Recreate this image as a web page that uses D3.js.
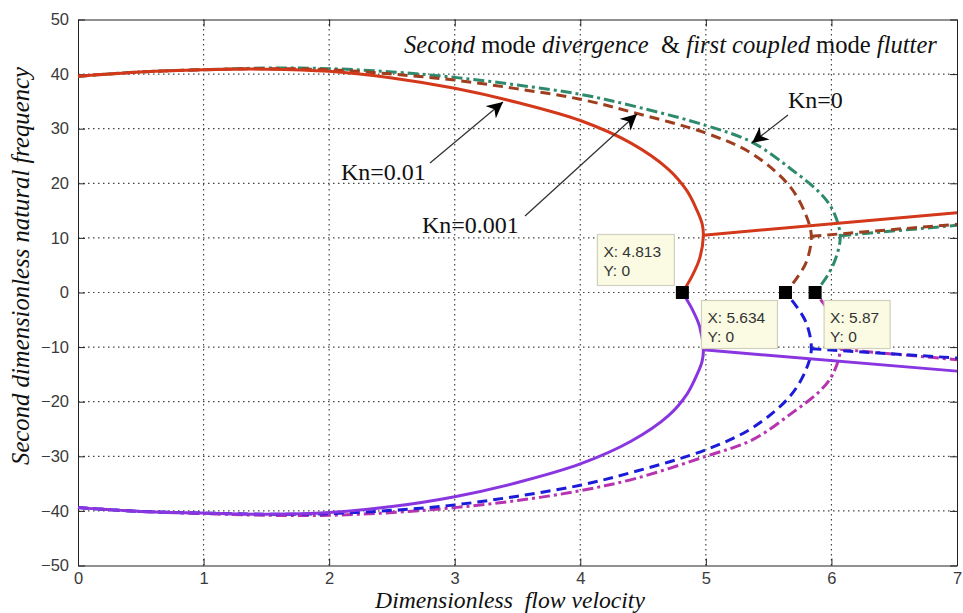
<!DOCTYPE html>
<html>
<head>
<meta charset="utf-8">
<script src="https://cdn.jsdelivr.net/npm/d3@7"></script>
<style>
  html, body { margin: 0; padding: 0; background: #fff; }
  svg { display: block; }
</style>
</head>
<body>
<svg id="chart" width="963" height="613"></svg>
<script>
// axis ticks
var xTicks = [0, 1, 2, 3, 4, 5, 6, 7];
var yTicks = [-50, -40, -30, -20, -10, 0, 10, 20, 30, 40, 50];

// Kn=0.01 (solid), upper / lower branch, then the coupled part after the vertex
var knA_upper = [[0, 39.6], [0.5, 40.4], [1, 40.8], [1.5, 40.9], [2, 40.5], [2.5, 39.3], [3, 37.4], [3.5, 34.8], [4, 31.5], [4.4, 27.4], [4.7, 22.6], [4.85, 18.6], [4.93, 15.0], [4.97, 12.6], [4.98, 10.5], [4.95, 6.2], [4.89, 3.0], [4.813, 0]];
var knA_lower = [[0, -39.4], [0.5, -40.1], [1, -40.4], [1.5, -40.6], [2, -40.3], [2.5, -39.2], [3, -37.4], [3.5, -34.8], [4, -31.4], [4.4, -27.3], [4.7, -22.6], [4.85, -18.6], [4.93, -15.0], [4.97, -12.6], [4.98, -10.5], [4.95, -6.2], [4.89, -3.0], [4.813, 0]];
var knA_upperFlutter = [[4.98, 10.5], [7, 14.6]];
var knA_lowerFlutter = [[4.98, -10.5], [7, -14.4]];

// Kn=0.001 (dashed)
var knB_upper = [[0, 39.6], [0.5, 40.4], [1, 40.8], [1.5, 41.0], [2, 40.8], [2.5, 40.0], [3, 38.9], [3.5, 37.3], [4, 35.4], [4.45, 32.8], [5, 29.2], [5.37, 25.4], [5.67, 19.4], [5.8, 14.0], [5.84, 10.3], [5.8, 5.6], [5.72, 2.5], [5.634, 0]];
var knB_lower = [[0, -39.4], [0.5, -40.1], [1, -40.4], [1.5, -40.6], [2, -40.5], [2.5, -39.9], [3, -38.9], [3.5, -37.3], [4, -35.3], [4.45, -32.7], [5, -28.8], [5.37, -24.8], [5.67, -19.0], [5.8, -14.0], [5.84, -10.3], [5.8, -5.6], [5.72, -2.5], [5.634, 0]];
var knB_upperFlutter = [[5.84, 10.3], [7, 12.5]];
var knB_lowerFlutter = [[5.84, -10.3], [7, -12.0]];

// Kn=0 (dash-dot)
var knC_upper = [[0, 39.6], [0.5, 40.4], [1, 40.8], [1.5, 41.1], [2, 41.0], [2.5, 40.4], [3, 39.4], [3.5, 38.0], [4, 36.3], [4.45, 34.0], [5, 30.6], [5.37, 27.5], [5.69, 22.4], [5.91, 18.2], [6.01, 15.1], [6.07, 10.4], [6.03, 6.0], [5.96, 2.8], [5.87, 0]];
var knC_lower = [[0, -39.4], [0.5, -40.1], [1, -40.5], [1.5, -40.8], [2, -40.8], [2.5, -40.3], [3, -39.4], [3.5, -38.1], [4, -36.3], [4.45, -34.0], [5, -30.0], [5.37, -27.0], [5.69, -22.0], [5.91, -18.0], [6.01, -15.0], [6.07, -10.4], [6.03, -6.0], [5.96, -2.8], [5.87, 0]];
var knC_upperFlutter = [[6.07, 10.4], [7, 12.3]];
var knC_lowerFlutter = [[6.07, -10.4], [7, -12.3]];

// data tips
var tipX = [4.813, 5.634, 5.87];
var tipY = [0, 0, 0];

var svg = d3.select('#chart');
var margin = { left: 78, right: 6, top: 19.5, bottom: 47.5 };
var width = 963 - margin.left - margin.right;
var height = 613 - margin.top - margin.bottom;

var x = d3.scaleLinear().domain([0, 7]).range([margin.left, margin.left + width]);
var y = d3.scaleLinear().domain([-50, 50]).range([margin.top + height, margin.top]);

// grid
var grid = svg.append('g');
grid.selectAll('.gx').data(xTicks.slice(1, -1)).enter().append('line')
  .attr('x1', function (d) { return x(d); }).attr('x2', function (d) { return x(d); })
  .attr('y1', y(-50)).attr('y2', y(50))
  .attr('stroke', '#444').attr('stroke-width', 1.2).attr('stroke-dasharray', '1.5,3.5');
grid.selectAll('.gy').data(yTicks.slice(1, -1)).enter().append('line')
  .attr('x1', x(0)).attr('x2', x(7))
  .attr('y1', function (d) { return y(d); }).attr('y2', function (d) { return y(d); })
  .attr('stroke', '#444').attr('stroke-width', 1.2).attr('stroke-dasharray', '1.5,3.5');

// axes
var tickFont = '"Liberation Sans", Arial, sans-serif';
var xAxis = svg.append('g').attr('transform', 'translate(0,' + y(-50) + ')')
  .call(d3.axisBottom(x).tickValues(xTicks).tickFormat(d3.format('d'))
    .tickSizeInner(-7).tickSizeOuter(0).tickPadding(7));
var yAxis = svg.append('g').attr('transform', 'translate(' + x(0) + ',0)')
  .call(d3.axisLeft(y).tickValues(yTicks).tickSizeInner(-7).tickSizeOuter(0).tickPadding(9));
svg.append('g').attr('transform', 'translate(0,' + y(50) + ')')
  .call(d3.axisTop(x).tickValues(xTicks).tickSizeInner(-7).tickSizeOuter(0).tickFormat(''));
svg.append('g').attr('transform', 'translate(' + x(7) + ',0)')
  .call(d3.axisRight(y).tickValues(yTicks).tickSizeInner(-7).tickSizeOuter(0).tickFormat(''));
svg.selectAll('.domain').attr('stroke', '#222');
svg.selectAll('.tick line').attr('stroke', '#222');
[xAxis, yAxis].forEach(function (a) {
  a.selectAll('text').attr('font-family', tickFont).attr('font-size', 16.5).attr('fill', '#3a3a3a');
});

// curves
var line = d3.line()
  .x(function (d) { return x(d[0]); })
  .y(function (d) { return y(d[1]); })
  .curve(d3.curveCatmullRom.alpha(0.5));

var dashDot = '11,4,3,4';
var dashed = '10,6';
var series = [
  { data: knC_upper, color: '#2e8a6c', dash: dashDot },
  { data: knC_upperFlutter, color: '#2e8a6c', dash: dashDot },
  { data: knC_lower, color: '#b833b0', dash: dashDot },
  { data: knC_lowerFlutter, color: '#b833b0', dash: dashDot },
  { data: knB_upper, color: '#9e3e1e', dash: dashed },
  { data: knB_upperFlutter, color: '#9e3e1e', dash: dashed },
  { data: knB_lower, color: '#1c1cd8', dash: dashed },
  { data: knB_lowerFlutter, color: '#1c1cd8', dash: dashed },
  { data: knA_upper, color: '#d4381a', dash: null },
  { data: knA_upperFlutter, color: '#d4381a', dash: null },
  { data: knA_lower, color: '#8a36e0', dash: null },
  { data: knA_lowerFlutter, color: '#8a36e0', dash: null }
];
svg.append('g').selectAll('path').data(series).enter().append('path')
  .attr('d', function (d) { return line(d.data); })
  .attr('fill', 'none')
  .attr('stroke', function (d) { return d.color; })
  .attr('stroke-width', 3)
  .attr('stroke-dasharray', function (d) { return d.dash; });

// arrows
var defs = svg.append('defs');
defs.append('marker').attr('id', 'arrow')
  .attr('viewBox', '0 0 10 10').attr('refX', 10).attr('refY', 5)
  .attr('markerWidth', 16).attr('markerHeight', 16).attr('markerUnits', 'userSpaceOnUse')
  .attr('orient', 'auto')
  .append('path').attr('d', 'M0,0 L10,5 L0,10 L3,5 Z').attr('fill', '#000');

var arrows = [
  { from: [430, 163], to: [503, 102] },
  { from: [525, 216], to: [637, 114] },
  { from: [788, 115], to: [752, 143] }
];
svg.append('g').selectAll('line').data(arrows).enter().append('line')
  .attr('x1', function (d) { return d.from[0]; }).attr('y1', function (d) { return d.from[1]; })
  .attr('x2', function (d) { return d.to[0]; }).attr('y2', function (d) { return d.to[1]; })
  .attr('stroke', '#333').attr('stroke-width', 1.3)
  .attr('marker-end', 'url(#arrow)');

var serif = '"Liberation Serif", "Times New Roman", serif';
var knLabels = [
  { text: 'Kn=0.01', x: 341, y: 180 },
  { text: 'Kn=0.001', x: 422, y: 233 },
  { text: 'Kn=0', x: 788, y: 108 }
];
svg.append('g').selectAll('text').data(knLabels).enter().append('text')
  .attr('x', function (d) { return d.x; }).attr('y', function (d) { return d.y; })
  .attr('font-family', serif).attr('font-size', 24).attr('fill', '#111')
  .text(function (d) { return d.text; });

// fit a text element to a target width by scaling its font size
function fitText(sel, base, target) {
  var w = sel.node().getComputedTextLength();
  sel.attr('font-size', base * target / w);
}

// title inside plot
var title = svg.append('text').attr('x', 404).attr('y', 53)
  .attr('font-family', serif).attr('font-size', 20).attr('fill', '#111');
[['Second', true], [' mode ', false], ['divergence', true], ['  & ', false],
 ['first coupled', true], [' mode ', false], ['flutter', true]].forEach(function (p) {
  title.append('tspan').attr('font-style', p[1] ? 'italic' : 'normal')
    .style('white-space', 'pre').text(p[0]);
});
fitText(title, 20, 533);

// axis titles
var xTitle = svg.append('text').attr('x', 510).attr('y', 608)
  .attr('text-anchor', 'middle').attr('font-family', serif).attr('font-style', 'italic')
  .attr('font-size', 20).attr('fill', '#111')
  .style('white-space', 'pre').text('Dimensionless  flow velocity');
fitText(xTitle, 20, 270);
var yTitle = svg.append('text').attr('transform', 'translate(29,' + 266 + ') rotate(-90)')
  .attr('text-anchor', 'middle').attr('font-family', serif).attr('font-style', 'italic')
  .attr('font-size', 20).attr('fill', '#111')
  .text('Second dimensionless natural frequency');
fitText(yTitle, 20, 398);

// data tips: box offset relative to the marker
var tipBoxes = [
  { dx: -85, dy: -58, w: 77, h: 51 },
  { dx: -84, dy: 8, w: 76, h: 48 },
  { dx: 9, dy: 8, w: 66, h: 48 }
];
var tips = svg.append('g');
tipX.forEach(function (tx, i) {
  var px = x(tx), py = y(tipY[i]);
  var b = tipBoxes[i];
  var g = tips.append('g').attr('transform', 'translate(' + (px + b.dx) + ',' + (py + b.dy) + ')');
  g.append('rect').attr('width', b.w).attr('height', b.h)
    .attr('fill', '#fbfbe4').attr('stroke', '#d0d0bc').attr('stroke-width', 1.2);
  g.append('text').attr('x', 6).attr('y', 22)
    .attr('font-family', tickFont).attr('font-size', 15.5).attr('fill', '#333')
    .text('X: ' + tx);
  g.append('text').attr('x', 6).attr('y', 41)
    .attr('font-family', tickFont).attr('font-size', 15.5).attr('fill', '#333')
    .text('Y: ' + tipY[i]);
});
tips.selectAll('.mk').data(tipX).enter().append('rect')
  .attr('x', function (d) { return x(d) - 6.5; })
  .attr('y', function (d, i) { return y(tipY[i]) - 6.5; })
  .attr('width', 13).attr('height', 13).attr('fill', '#000');
</script>
</body>
</html>
